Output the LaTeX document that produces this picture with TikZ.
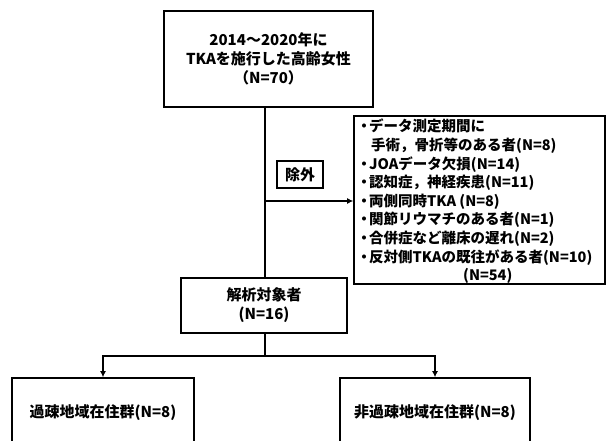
\documentclass[tikz,border=0pt]{standalone}
\usepackage{fontspec}
\setmainfont{Noto Sans CJK JP}
\usetikzlibrary{arrows.meta}
\newcommand\mybul{\makebox[10pt][c]{・}}
\tikzset{
  box/.style={draw, line width=1.6pt, inner sep=0pt, align=center,
    font=\fontsize{15}{19}\selectfont\bfseries},
  conn/.style={line width=1.6pt},
  arr/.style={line width=1.6pt, -{Latex[length=6pt,width=6pt]}},
  listtext/.style={inner sep=0pt, align=left, anchor=north west,
    font=\fontsize{14.5}{18.6}\selectfont\bfseries}
}
\begin{document}
\begin{tikzpicture}[x=1pt,y=-1pt]
\useasboundingbox (0,0) rectangle (607,441);
\clip (0,0) rectangle (607,441);
\node[box, minimum width=209pt, minimum height=96pt] (top) at (268.5,59) {2014〜2020年に\\TKAを施行した高齢女性\\（N=70）};
\node[box, minimum width=251pt, minimum height=168pt] (excl) at (479.5,200) {};
\node[listtext] (list) at (359,119) {\mybul データ測定期間に\\\hspace*{12pt}手術，骨折等のある者(N=8)\\\mybul JOAデータ欠損(N=14)\\\mybul 認知症，神経疾患(N=11)\\\mybul 両側同時TKA (N=8)\\\mybul 関節リウマチのある者(N=1)\\\mybul 合併症など離床の遅れ(N=2)\\\mybul 反対側TKAの既往がある者(N=10)\\\hspace*{104pt}(N=54)};
\node[box, minimum width=46pt, minimum height=27pt] (jogai) at (300,174.5) {除外};
\node[box, minimum width=166pt, minimum height=55pt] (ana) at (264,305.5) {解析対象者\\(N=16)};
\node[box, minimum width=182pt, minimum height=70pt] (left) at (103,413) {過疎地域在住群(N=8)};
\node[box, minimum width=190pt, minimum height=70pt] (right) at (435,413) {非過疎地域在住群(N=8)};
\coordinate (spine) at (265,201);
\coordinate (split) at (265,356);
\draw[conn] (top.south -| spine) -- (ana.north -| spine);
\draw[arr] (spine) -- (spine -| excl.west);
\draw[conn] (ana.south -| split) -- (split);
\draw[arr] (split) -| (left.north);
\draw[arr] (split) -| (right.north);
\end{tikzpicture}
\end{document}
